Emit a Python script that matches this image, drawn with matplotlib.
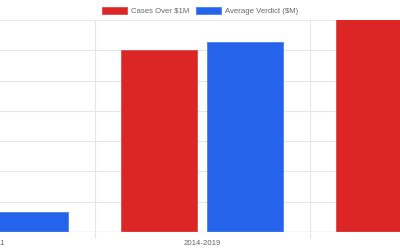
import numpy as np
import matplotlib
matplotlib.use("Agg")
import matplotlib.pyplot as plt

# data (y-axis labels are cropped, one gridline = 5 units)
periods = ["2008-2011", "2014-2019", "2020+"]
cases_over_1m = [12, 30, 41]
avg_verdict = [3.3, 31.3, 38]

red = "#dc2626"
blue = "#2563eb"
grid_c = "#e6e6e6"
text_c = "#666666"

plt.rcParams["font.family"] = ["Liberation Sans", "DejaVu Sans"]

fig = plt.figure(figsize=(4, 2.5), dpi=100)
# plot area runs past the left and right edges of the picture
ax = fig.add_axes([-120.5 / 400, 18 / 250, 645 / 400, 212 / 250])

x = np.arange(len(periods))
w = 0.358
ax.bar(x - 0.2, cases_over_1m, w, color=red, edgecolor="#e04a4a", linewidth=0.6,
       label="Cases Over $1M", zorder=3)
ax.bar(x + 0.2, avg_verdict, w, color=blue, edgecolor="#4a80ee", linewidth=0.6,
       label="Average Verdict ($M)", zorder=3)

ax.set_xlim(-0.5, 2.5)
ax.set_ylim(0, 35)
ax.set_yticks(np.arange(0, 36, 5))
ax.tick_params(axis="y", length=0, labelleft=False)

ax.set_xticks(x)
ax.set_xticklabels(periods)
ax.set_xticks([0.5, 1.5], minor=True)
ax.tick_params(axis="x", which="major", length=0, pad=5.5, labelsize=5.6, labelcolor=text_c)
ax.tick_params(axis="x", which="minor", length=4, width=0.8, color=grid_c)

ax.grid(axis="y", color=grid_c, linewidth=0.8, zorder=0)
ax.grid(axis="x", which="minor", color=grid_c, linewidth=0.8, zorder=0)
for s in ax.spines.values():
    s.set_visible(False)
ax.axhline(0, color="#cfcfcf", linewidth=0.9, zorder=4)

fig.legend(loc="center", bbox_to_anchor=(0.5, 0.956), ncol=2, frameon=False,
           fontsize=5.6, labelcolor=text_c, handlelength=3.2, handleheight=0.9,
           handletextpad=0.5, columnspacing=0.9, borderaxespad=0)

fig.savefig("out.png", dpi=100)
